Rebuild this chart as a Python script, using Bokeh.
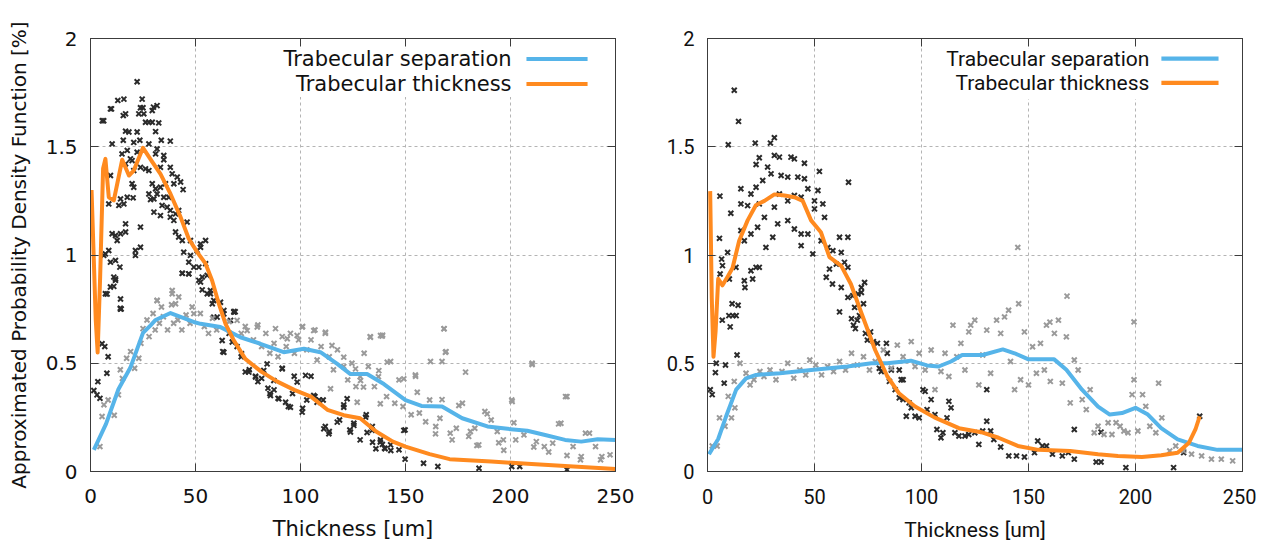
from bokeh.plotting import figure
from bokeh.models import Range1d, FixedTicker, LinearAxis, Label, BoxAnnotation
from bokeh.layouts import row
from bokeh.embed import file_html
from bokeh.resources import INLINE

# ---------------- data: left panel ----------------
sep_curve_l_x = [1.6, 7.4, 13.3, 19, 25, 28.6, 31, 38.1, 43.5, 50, 52.4, 61.9, 71.4, 80.9, 92, 101.6,
                 109.5, 117.5, 123.8, 131.7, 139.7, 150, 157.6, 167.4, 177, 189, 198.6, 208, 216,
                 226, 233.7, 241.5, 250]
sep_curve_l_y = [0.10, 0.22, 0.38, 0.48, 0.64, 0.675, 0.70, 0.732, 0.712, 0.688, 0.682, 0.667, 0.62,
                 0.59, 0.551, 0.567, 0.551, 0.497, 0.45, 0.45, 0.404, 0.33, 0.303, 0.30, 0.246,
                 0.208, 0.197, 0.188, 0.17, 0.146, 0.138, 0.149, 0.146]

thk_curve_l_x = [0.5, 2.5, 3.4, 4.6, 6.0, 7.1, 8.7, 11.1, 15.1, 18.3, 20.6, 25.0, 29.4, 33.3, 38.1,
                 42.9, 46.8, 50.8, 54.8, 57.9, 61.1, 64.3, 68, 73.7, 81.5, 89, 97, 105, 112.8,
                 120.6, 128.4, 136, 144, 150, 161.5, 171, 190.8, 210, 230, 250]
thk_curve_l_y = [1.30, 0.70, 0.55, 0.90, 1.40, 1.444, 1.267, 1.252, 1.44, 1.367, 1.39, 1.495, 1.43,
                 1.375, 1.282, 1.175, 1.075, 1.013, 0.96, 0.882, 0.775, 0.682, 0.61, 0.52, 0.46,
                 0.415, 0.377, 0.346, 0.285, 0.26, 0.246, 0.185, 0.138, 0.115, 0.08, 0.057, 0.046,
                 0.035, 0.023, 0.012]

thk_pts_l_x = [22.2, 6.3, 10, 13, 15.9, 15.6, 16.7, 24.6, 23.8, 25, 23, 25.4, 29.4, 30, 31.7, 26.2,
               27.8, 29.4, 32.5, 16.7, 18.3, 22.2, 31, 10.3, 15.6, 20.6, 23.5, 27.8, 33.7, 38, 15,
               17.5, 19, 19.8, 22.2, 31.7, 31, 34.9, 34.9, 9.5, 16.7, 20.6, 23.8, 26.2, 27.8, 33.3,
               38, 38.9, 41.3, 19.8, 20.6, 29.4, 31, 33.3, 35.7, 39.7, 42.9, 44.1, 14.3, 17.5, 20.3,
               27.8, 28.6, 30.2, 31.7, 34.9, 37.3, 8.7, 13.5, 15.9, 30.2, 33.3, 34.1, 36.5, 38,
               40.5, 38, 39.7, 42, 46, 16.7, 23.8, 10.3, 11.9, 14.3, 16.7, 12.7, 40.5, 42, 43.7,
               47.6, 52.4, 54.8, 8.7, 6.3, 21.4, 21.4, 23.8, 44.4, 47.6, 50.8, 52.4, 11.9, 14, 9.5,
               46.8, 49.2, 51.6, 54.8, 43.7, 46.8, 11.1, 11.9, 9.5, 11.1, 51.6, 53.2, 55.6, 7.1,
               55.6, 57.1, 14.3, 14.6, 58.7, 61.9, 63.5, 68.3, 60.3, 7.1, 7.9, 11.9, 14.3, 5.6, 9.5,
               1.6, 3.1, 4.5, 3.5, 5.5, 6.8, 7.8, 8.4, 14.2,
               63, 69.8, 68.9, 66, 71.8, 73.7, 75.6, 78.6, 79.7, 81.5, 84.5, 85.4, 87.4, 89.3, 91.3,
               94.2, 96.2, 97, 101, 103, 105, 106.9, 108.9, 110.8, 111.8, 113.7, 118.6, 120.6,
               123.5, 125.4, 128.4, 131.3, 134.2, 138.1, 140, 142.9, 146.9, 149.8, 149.8, 158.6,
               165.4, 185, 200.6, 204.4, 226.9,
               43.7, 46.8, 52.4, 53.2, 57.1, 58, 58.7, 63.5, 68.3, 66.7, 62.7, 63.5, 67.5, 71.9,
               75.4, 78.6, 82.5, 84.1, 85.7, 87.3, 89.7, 91.3, 92.9, 95.2, 98.4, 102.4, 100.8,
               106.3, 107.9, 111.1, 113.5, 117.5, 120.6, 122.2, 123.8, 125.4, 131, 134.1, 138,
               140.3, 149.2, 134.3, 135.9, 139, 143, 131.7]
thk_pts_l_y = [1.80, 1.62, 1.675, 1.714, 1.72, 1.644, 1.652, 1.72, 1.68, 1.68, 1.652, 1.652, 1.667,
               1.683, 1.69, 1.613, 1.613, 1.613, 1.61, 1.572, 1.568, 1.568, 1.57, 1.513, 1.53, 1.52,
               1.53, 1.513, 1.53, 1.526, 1.467, 1.483, 1.444, 1.436, 1.475, 1.49, 1.467, 1.46, 1.44,
               1.367, 1.421, 1.39, 1.405, 1.398, 1.39, 1.405, 1.405, 1.375, 1.36, 1.329, 1.313,
               1.329, 1.306, 1.313, 1.329, 1.329, 1.337, 1.302, 1.259, 1.267, 1.264, 1.282, 1.256,
               1.259, 1.282, 1.267, 1.267, 1.236, 1.229, 1.236, 1.198, 1.182, 1.229, 1.221, 1.206,
               1.19, 1.175, 1.16, 1.206, 1.152, 1.144, 1.129, 1.098, 1.09, 1.098, 1.106, 1.067,
               1.106, 1.083, 1.067, 1.067, 1.051, 1.067, 1.021, 0.998, 1.021, 0.998, 1.036, 1.013,
               0.998, 1.021, 1.036, 0.975, 0.944, 0.967, 0.967, 0.944, 0.944, 0.96, 0.915, 0.913,
               0.898, 0.883, 0.852, 0.855, 0.883, 0.898, 0.906, 0.821, 0.821, 0.821, 0.797, 0.751,
               0.79, 0.782, 0.744, 0.739, 0.713, 1.005, 0.82, 0.89, 0.75, 1.62, 1.675,
               0.374, 0.354, 0.338, 0.415, 0.59, 0.577, 0.454, 0.53, 0.754,
               0.554, 0.577, 0.738, 0.638, 0.53, 0.46, 0.47, 0.44, 0.415, 0.43, 0.385, 0.36, 0.377,
               0.338, 0.477, 0.30, 0.36, 0.44, 0.292, 0.33, 0.44, 0.346, 0.33, 0.33, 0.208, 0.185,
               0.238, 0.308, 0.192, 0.223, 0.146, 0.262, 0.208, 0.146, 0.108, 0.123, 0.10, 0.192,
               0.057, 0.038, 0.023, 0.015, 0.023, 0.023, 0.008,
               0.916, 0.913, 0.875, 0.839, 0.836, 0.775, 0.713, 0.728, 0.736, 0.698, 0.605, 0.551,
               0.598, 0.544, 0.459, 0.436, 0.467, 0.497, 0.351, 0.42, 0.336, 0.474, 0.32, 0.297,
               0.413, 0.444, 0.274, 0.351, 0.32, 0.197, 0.174, 0.228, 0.297, 0.336, 0.182, 0.213,
               0.251, 0.19, 0.136, 0.105, 0.19, 0.135, 0.105, 0.125, 0.097, 0.18]

sep_pts_l_x = [4.5, 5.5, 6.4, 8.4, 11.3, 13.3, 14.2, 15.2, 17.2, 19.1, 21, 23, 24, 25, 26.9, 27.9,
               29.8, 30.8, 32.8, 33.8, 34.7, 36.7, 38.6, 39.6, 41.6, 43.5, 45.5, 47.4, 48.4, 52.3,
               54.2, 56.2, 58.1, 60.1, 66, 71.8, 73.7, 77.6, 79.7, 81.5, 83.5, 85.4, 87.4, 89.3,
               91.3, 93.2, 95.2, 97.1, 99.1, 101, 103, 105, 106.9, 107.9, 109.8, 111.8, 113.7,
               115.7, 117.6, 120.6, 122.5, 124.5, 126.4, 128.4, 130.3, 132.3, 133.2, 135.2, 137.1,
               139.1, 141, 142.9, 144.9, 146.9, 148.8, 152.7, 154.7, 156.6, 159.6, 161.5, 164.4,
               166.4, 167.4, 168.4, 169.3, 171.3, 174.2, 177.1, 180.1, 183, 184.9, 187.8, 190.8,
               193.7, 196.6, 200.6, 202.5, 206.4, 210.3, 212.3, 216.1, 220.1, 224, 226.9, 229.8,
               233.7, 237.6, 240.5, 243.5, 247.4,
               38.9, 31.7, 40.5, 31.7, 38.9, 42, 49.2, 69.8, 74.6, 79.4, 88.1, 93.7, 98.4, 100.8,
               106.3, 111.9, 115, 120.6, 126.2, 133.3, 138.1, 141.3, 137.3, 128.6, 127, 138, 114.3,
               130,
               168.3, 169, 138.9, 161.9, 178.6, 210.3, 149.2, 154.8, 155.6, 167.4, 175.4, 200.8,
               226.2, 188.9, 201.6, 222.9, 235.7, 184, 194.4, 196.8, 211.1, 218.2, 226.9, 233.3,
               242.9, 164.3, 172.2, 180.9]
sep_pts_l_y = [0.115, 0.254, 0.308, 0.33, 0.26, 0.354, 0.47, 0.43, 0.523, 0.554, 0.477, 0.523,
               0.592, 0.66, 0.70, 0.623, 0.73, 0.654, 0.685, 0.76, 0.715, 0.654, 0.77, 0.685, 0.70,
               0.654, 0.723, 0.685, 0.76, 0.73, 0.67, 0.638, 0.708, 0.654, 0.692, 0.638, 0.67,
               0.608, 0.677, 0.577, 0.638, 0.546, 0.592, 0.53, 0.623, 0.577, 0.638, 0.546, 0.608,
               0.67, 0.562, 0.608, 0.654, 0.515, 0.577, 0.638, 0.53, 0.47, 0.562, 0.485, 0.423,
               0.50, 0.392, 0.438, 0.546, 0.485, 0.623, 0.392, 0.438, 0.63, 0.346, 0.508, 0.315,
               0.423, 0.30, 0.262, 0.446, 0.27, 0.23, 0.33, 0.208, 0.246, 0.508, 0.66, 0.554,
               0.177, 0.20, 0.315, 0.162, 0.20, 0.123, 0.277, 0.238, 0.185, 0.146, 0.33, 0.146,
               0.169, 0.50, 0.138, 0.115, 0.131, 0.223, 0.346, 0.115, 0.069, 0.177, 0.115, 0.069,
               0.077,
               0.836, 0.79, 0.775, 0.79, 0.821, 0.806, 0.729, 0.698, 0.651, 0.667, 0.66, 0.613,
               0.628, 0.667, 0.651, 0.643, 0.582, 0.528, 0.474, 0.62, 0.628, 0.505, 0.466, 0.42,
               0.32, 0.313, 0.382, 0.39,
               0.659, 0.551, 0.625, 0.508, 0.459, 0.494, 0.428, 0.44, 0.366, 0.332, 0.305, 0.323,
               0.346, 0.266, 0.225, 0.22, 0.177, 0.12, 0.133, 0.098, 0.113, 0.09, 0.074, 0.054,
               0.054, 0.174, 0.146, 0.185]

# ---------------- data: right panel ----------------
sep_curve_r_x = [0.7, 5, 8.7, 13.4, 18, 22.7, 33.8, 49.6, 65.4, 76.6, 84, 95, 102.6, 108, 113.8,
                 119, 128.6, 138, 143.5, 150, 162, 167.7, 175, 182.5, 188, 193.7, 200, 205.8,
                 212, 219.7, 229, 238.3, 250]
sep_curve_r_y = [0.08, 0.15, 0.255, 0.378, 0.43, 0.446, 0.454, 0.47, 0.485, 0.50, 0.50, 0.512,
                 0.49, 0.485, 0.508, 0.538, 0.538, 0.564, 0.546, 0.518, 0.518, 0.47, 0.378, 0.30,
                 0.263, 0.27, 0.294, 0.263, 0.20, 0.148, 0.118, 0.10, 0.10]

thk_curve_r_x = [1.25, 2.0, 2.8, 3.8, 5.0, 7.0, 9.4, 11.7, 14.8, 18.75, 22.6, 26.6, 31.25, 36,
                 40.6, 44.5, 48.4, 53, 57, 62.5, 67, 72, 78.4, 84, 89.6, 97, 106, 117.5, 128.6,
                 136, 145, 154.6, 169.5, 182.5, 191.8, 203, 212, 219.7, 225, 228, 230]
thk_curve_r_y = [1.295, 0.80, 0.53, 0.65, 0.89, 0.86, 0.90, 0.94, 1.066, 1.16, 1.23, 1.25, 1.28,
                 1.275, 1.267, 1.25, 1.16, 1.105, 0.99, 0.95, 0.866, 0.73, 0.56, 0.44, 0.36, 0.30,
                 0.25, 0.20, 0.18, 0.156, 0.118, 0.10, 0.095, 0.08, 0.072, 0.067, 0.075, 0.087,
                 0.133, 0.194, 0.255]

thk_pts_r_x = [12.5, 14.5, 9.7, 5.8, 5.6, 9.4, 6.6, 7.0, 5.9, 10.2, 13.3, 22.7, 24.2, 20.3, 21.1,
               17.2, 17.5, 22.3, 29.4, 31.25, 22.7, 24.2, 28.1, 31.25, 33.6, 39, 40.6, 45.3, 52.3,
               15.6, 20.3, 22.7, 25.8, 29.7, 34.4, 37.5, 42.2, 45.3, 46.9, 10.9, 15.6, 18.75, 24.2,
               26.6, 31.25, 33.6, 37.5, 40.6, 43.75, 50, 51.6, 65.9, 15.6, 17.2, 20.3, 23.4, 27.3,
               30.5, 32.8, 37.5, 40.6, 43.75, 43.75, 46.9, 50, 53.9, 54.7, 49.2, 53.1, 56.25, 58.6,
               61.7, 65.6, 62.5, 57, 60.2, 64, 65.6, 55.5, 58.4, 62.5, 65.6, 67.9, 70.3, 71.9, 73.4,
               68.75, 71.9,
               1.3, 2.2, 4.1, 3.7, 6.9, 7.8, 8.4, 10, 10.6, 11.9, 13.4, 13.8, 11.5, 14.3,
               61.7, 67.3, 68.2, 70, 69.1, 71, 72.9, 73.8, 74.7, 76.2, 77.5, 79.4, 80.3, 81.2, 83.6,
               84, 85, 85.9, 87.7, 89.6, 90.5, 91.4, 89.6, 91.4, 94.2, 92.9, 95.2, 97, 98.9, 100.7,
               101.7, 102.6, 104.5, 106.3, 107.2, 109.1, 110, 111.9, 112.8, 113.8, 115.6, 117.5,
               120.3, 122.1, 124.9, 126.8, 128.6, 130.5, 130.5, 132.3, 133.8, 137, 140.8, 144.4,
               148.1, 152.8, 154.3, 156.5, 158.4, 161.2, 165.8, 168.6, 171.4, 171.4, 181.6, 183.9,
               183.9, 195.5, 217.8, 222.5, 230]
thk_pts_r_y = [1.761, 1.617, 1.509, 1.272, 1.077, 1.012, 0.981, 0.951, 0.912, 0.889, 0.943, 0.943,
               0.943, 0.927, 0.889, 0.881, 0.85, 1.517, 1.517, 1.542, 1.418, 1.449, 1.406, 1.46,
               1.452, 1.452, 1.444, 1.424, 1.386, 1.306, 1.282, 1.313, 1.344, 1.375, 1.367, 1.36,
               1.36, 1.352, 1.306, 1.193, 1.236, 1.228, 1.236, 1.174, 1.221, 1.282, 1.25, 1.275,
               1.267, 1.25, 1.298, 1.336, 1.113, 1.066, 1.097, 1.128, 1.035, 1.082, 1.144, 1.159,
               1.12, 1.097, 1.043, 1.097, 1.213, 1.236, 1.174, 1.005, 1.066, 1.035, 1.02, 1.082,
               1.082, 1.012, 0.935, 0.958, 0.966, 0.943, 0.897, 0.866, 0.85, 0.804, 0.812, 0.82,
               0.85, 0.873, 0.758, 0.827,
               0.378, 0.355, 0.50, 0.457, 0.699, 0.408, 0.492, 0.72, 0.668, 0.72, 0.72, 0.538,
               0.775, 0.768,
               0.737, 0.706, 0.676, 0.699, 0.66, 0.72, 0.775, 0.638, 0.607, 0.645, 0.60, 0.592,
               0.477, 0.462, 0.592, 0.546, 0.416, 0.469, 0.378, 0.469, 0.424, 0.424, 0.34, 0.332,
               0.317, 0.255, 0.294, 0.255, 0.248, 0.378, 0.37, 0.286, 0.332, 0.263, 0.194, 0.156,
               0.179, 0.248, 0.324, 0.294, 0.179, 0.164, 0.164, 0.171, 0.179, 0.125, 0.187, 0.232,
               0.378, 0.187, 0.148, 0.113, 0.072, 0.072, 0.067, 0.087, 0.141, 0.118, 0.118, 0.08,
               0.072, 0.087, 0.057, 0.194, 0.044, 0.044, 0.182, 0.018, 0.018, 0.087, 0.255]

sep_pts_r_x = [2.2, 4.5, 5.6, 8.2, 11.2, 12.8, 9.7, 12.5, 15.2, 18, 19.9, 21.7, 24.5, 26.4, 29.2,
               32, 34.8, 37.5, 40.3, 43.1, 45.9, 47.8, 50.6, 53.3, 56.1, 58.9, 61.7, 64.5, 67.3,
               70, 72.9, 75.7, 78.4, 82.2, 85.9, 88.7, 91.4, 95.2, 97, 98.9, 101.7, 104.5, 106.3,
               109.1, 111, 112.8, 114.7, 116.5, 118.4, 120.3, 122.1, 123, 124.9, 126.8, 128.6,
               130.5, 132.3, 135.1, 137, 138.8, 140.7, 141.6, 143.5, 145.4, 146.3, 148.1, 150,
               151.9, 153.7, 155.6, 157.4, 158.4, 160.2, 162.1, 164, 165.8, 167.7, 169.5, 171.4,
               173.2, 175.1, 177, 178.8, 180.7, 182.5, 185.3, 187.2, 189, 190.9, 192.8, 194.6,
               196.5, 198.4, 199.3, 199.3, 201.1, 203.3, 204.8, 206.7, 209.5, 210.8, 212.3, 216,
               218.8, 222.5, 226.2, 230.9, 235.5, 240.1, 245.4, 145, 168, 160]
sep_pts_r_y = [0.118, 0.118, 0.248, 0.209, 0.248, 0.294, 0.347, 0.416, 0.50, 0.454, 0.40, 0.424,
               0.462, 0.439, 0.469, 0.424, 0.462, 0.50, 0.431, 0.469, 0.446, 0.515, 0.492, 0.446,
               0.485, 0.462, 0.508, 0.469, 0.546, 0.492, 0.53, 0.469, 0.508, 0.561, 0.477, 0.584,
               0.53, 0.60, 0.485, 0.546, 0.469, 0.561, 0.378, 0.462, 0.546, 0.439, 0.676, 0.53,
               0.592, 0.469, 0.645, 0.676, 0.699, 0.40, 0.538, 0.653, 0.454, 0.699, 0.638, 0.714,
               0.745, 0.508, 0.378, 0.775, 0.424, 0.645, 0.40, 0.576, 0.454, 0.592, 0.469, 0.676,
               0.416, 0.638, 0.699, 0.408, 0.622, 0.317, 0.515, 0.469, 0.332, 0.286, 0.378, 0.179,
               0.209, 0.171, 0.225, 0.171, 0.225, 0.209, 0.187, 0.179, 0.355, 0.691, 0.424, 0.187,
               0.355, 0.301, 0.209, 0.179, 0.408, 0.248, 0.095, 0.118, 0.095, 0.08, 0.072, 0.057,
               0.057, 0.049, 1.035, 0.81, 0.69]

x_ticks = [0, 50, 100, 150, 200, 250]
y_ticks = [0, 0.5, 1, 1.5, 2]
y_tick_labels = ["0", "0.5", "1", "1.5", "2"]
legend_labels = ["Trabecular separation", "Trabecular thickness"]
y_title = "Approximated Probability Density Function [%]"
x_title = "Thickness [um]"

BLUE = "#56b4e9"
ORANGE = "#ff8a1f"
DARK = "#2b2b2b"
GRAY = "#9a9a9a"
AX = "#3c3c3c"
TXT = "#111111"


def make_panel(font, width, border_left, border_right, ylabel, sep_curve, thk_curve, sep_pts,
               thk_pts, leg_text_x, leg_line, leg_y, leg_box):
    p = figure(width=width, height=546, output_backend="svg", toolbar_location=None,
               x_range=Range1d(0, 250), y_range=Range1d(0, 2),
               min_border_left=border_left, min_border_right=border_right,
               min_border_top=38, min_border_bottom=75)
    p.background_fill_color = "white"
    p.border_fill_color = "white"
    p.outline_line_color = AX
    p.outline_line_width = 1

    xt = FixedTicker(ticks=x_ticks, minor_ticks=[])
    yt = FixedTicker(ticks=y_ticks, minor_ticks=[])

    for ax in (p.xaxis[0], p.yaxis[0]):
        ax.axis_line_color = AX
        ax.major_tick_line_color = AX
        ax.major_tick_in = 8
        ax.major_tick_out = 0
        ax.minor_tick_line_color = None
        ax.major_label_text_font = font
        ax.major_label_text_font_size = "20px"
        ax.major_label_text_color = TXT
        ax.axis_label_text_font = font
        ax.axis_label_text_font_size = "21px"
        ax.axis_label_text_font_style = "normal"
        ax.axis_label_text_color = TXT
    p.xaxis[0].ticker = xt
    p.yaxis[0].ticker = yt
    p.yaxis[0].major_label_overrides = {t: s for t, s in zip(y_ticks, y_tick_labels)}
    p.xaxis[0].major_label_standoff = 17
    p.xaxis[0].axis_label = x_title
    p.xaxis[0].axis_label_standoff = 11
    p.yaxis[0].major_label_standoff = 13
    if ylabel:
        p.yaxis[0].axis_label = ylabel
        p.yaxis[0].axis_label_text_font_size = "20px"
        p.yaxis[0].axis_label_standoff = 12

    # mirrored ticks (top / right)
    top = LinearAxis(ticker=FixedTicker(ticks=x_ticks, minor_ticks=[]))
    right = LinearAxis(ticker=FixedTicker(ticks=y_ticks, minor_ticks=[]))
    for ax, ticks in ((top, x_ticks), (right, y_ticks)):
        ax.axis_line_color = AX
        ax.major_tick_line_color = AX
        ax.major_tick_in = 8
        ax.major_tick_out = 0
        ax.minor_tick_line_color = None
        ax.major_label_overrides = {t: "" for t in ticks}
        ax.major_label_text_font_size = "1px"
        ax.major_label_standoff = 0
    p.add_layout(top, "above")
    p.add_layout(right, "right")

    for g in (p.xgrid[0], p.ygrid[0]):
        g.grid_line_color = "#b4b4b4"
        g.grid_line_dash = "3 3"
        g.grid_line_width = 1
    p.xgrid[0].ticker = xt
    p.ygrid[0].ticker = yt

    p.scatter(thk_pts[0], thk_pts[1], marker="x", size=7, line_width=2, color=DARK)
    p.scatter(sep_pts[0], sep_pts[1], marker="x", size=7, line_width=2, color=GRAY)
    p.line(sep_curve[0], sep_curve[1], line_width=4, color=BLUE, line_join="round")
    p.line(thk_curve[0], thk_curve[1], line_width=4, color=ORANGE, line_join="round")

    # legend (text, then sample line on the right, opaque background)
    p.add_layout(BoxAnnotation(left=leg_box[0], right=248.5, bottom=leg_box[1], top=1.955,
                               fill_color="white", fill_alpha=1.0, line_color=None,
                               level="annotation"))
    for lab, yy, col in zip(legend_labels, leg_y, (BLUE, ORANGE)):
        p.add_layout(Label(x=leg_text_x, y=yy, text=lab, text_align="right",
                           text_baseline="middle", text_font=font, text_font_size="21px",
                           text_color=TXT))
        p.add_layout(BoxAnnotation(left=leg_line[0], right=leg_line[1], bottom=yy - 0.0095,
                                   top=yy + 0.0095, fill_color=col, fill_alpha=1.0,
                                   line_color=None, level="annotation"))
    return p


p1 = make_panel("DejaVu Sans", 640, 90, 25, y_title,
                (sep_curve_l_x, sep_curve_l_y), (thk_curve_l_x, thk_curve_l_y),
                (sep_pts_l_x, sep_pts_l_y), (thk_pts_l_x, thk_pts_l_y),
                200.5, (207.6, 236.7), (1.905, 1.79), (82, 1.73))
p2 = make_panel("Roboto", 616, 67, 14, None,
                (sep_curve_r_x, sep_curve_r_y), (thk_curve_r_x, thk_curve_r_y),
                (sep_pts_r_x, sep_pts_r_y), (thk_pts_r_x, thk_pts_r_y),
                206.5, (212.1, 238.8), (1.907, 1.795), (104, 1.72))

layout = row(p1, p2)
open("out.html", "w").write(file_html(layout, INLINE))
